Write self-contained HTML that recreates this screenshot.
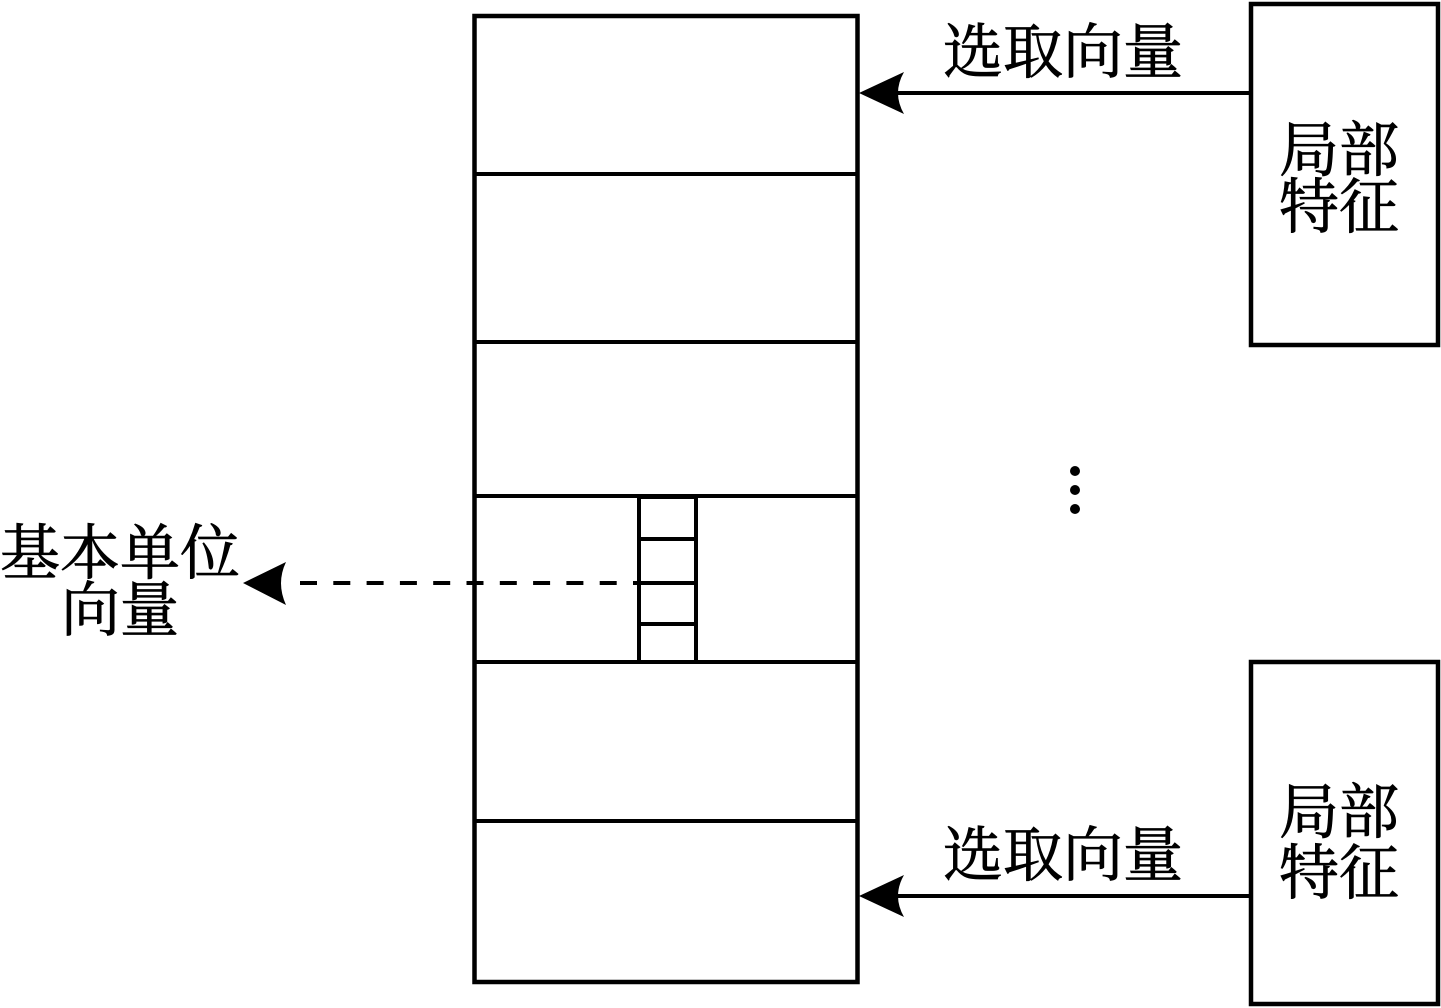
<!DOCTYPE html>
<html>
<head>
<meta charset="utf-8">
<style>
  html, body { margin:0; padding:0; background:#fff; }
  body { width:1441px; height:1008px; overflow:hidden; }
  svg { display:block; }
  text { font-family: "Liberation Serif", "Noto Serif CJK SC", "Noto Sans CJK SC", serif; font-size:60px; fill:#000; stroke:#000; stroke-width:0.8px; }
</style>
</head>
<body>
<svg width="1441" height="1008" viewBox="0 0 1441 1008" xmlns="http://www.w3.org/2000/svg">
  <rect x="0" y="0" width="1441" height="1008" fill="#fff"/>
  <!-- main column -->
  <rect x="474.5" y="16" width="383" height="966" fill="none" stroke="#000" stroke-width="4.5"/>
  <g stroke="#000" stroke-width="4">
    <line x1="474" y1="174" x2="858" y2="174"/>
    <line x1="474" y1="342" x2="858" y2="342"/>
    <line x1="474" y1="496" x2="858" y2="496"/>
    <line x1="474" y1="662" x2="858" y2="662"/>
    <line x1="474" y1="821" x2="858" y2="821"/>
  </g>
  <!-- small vector cell -->
  <rect x="639" y="497" width="57" height="165" fill="none" stroke="#000" stroke-width="4"/>
  <g stroke="#000" stroke-width="4">
    <line x1="639" y1="539" x2="697" y2="539"/>
    <line x1="639" y1="583" x2="697" y2="583"/>
    <line x1="639" y1="624" x2="697" y2="624"/>
  </g>
  <!-- dashed arrow -->
  <line x1="300" y1="583" x2="640" y2="583" stroke="#000" stroke-width="4" stroke-dasharray="17 16.3"/>
  <path d="M243,583 L286,562 Q276,583 286,605 Z" fill="#000"/>
  <!-- right boxes -->
  <rect x="1251" y="4" width="187" height="341" fill="none" stroke="#000" stroke-width="4.5"/>
  <rect x="1251" y="662" width="187" height="342" fill="none" stroke="#000" stroke-width="4.5"/>
  <!-- arrows -->
  <line x1="893" y1="93" x2="1251" y2="93" stroke="#000" stroke-width="4"/>
  <path d="M859,93 L904,72 Q892,93 904,114 Z" fill="#000"/>
  <line x1="893" y1="896" x2="1251" y2="896" stroke="#000" stroke-width="4"/>
  <path d="M859,896 L904,875 Q892,896 904,917 Z" fill="#000"/>
  <!-- dots -->
  <circle cx="1075" cy="471" r="5" fill="#000"/>
  <circle cx="1075" cy="490" r="5" fill="#000"/>
  <circle cx="1075" cy="509" r="5" fill="#000"/>
  <!-- labels -->
  <text x="943" y="73" textLength="240" lengthAdjust="spacingAndGlyphs">选取向量</text>
  <text x="943" y="876" textLength="240" lengthAdjust="spacingAndGlyphs">选取向量</text>
  <text x="1279" y="171" textLength="120" lengthAdjust="spacingAndGlyphs">局部</text>
  <text x="1279" y="228" textLength="120" lengthAdjust="spacingAndGlyphs">特征</text>
  <text x="1279" y="833" textLength="120" lengthAdjust="spacingAndGlyphs">局部</text>
  <text x="1279" y="894" textLength="120" lengthAdjust="spacingAndGlyphs">特征</text>
  <text x="0" y="574" textLength="240" lengthAdjust="spacingAndGlyphs">基本单位</text>
  <text x="61" y="631" textLength="118" lengthAdjust="spacingAndGlyphs">向量</text>
</svg>
</body>
</html>
